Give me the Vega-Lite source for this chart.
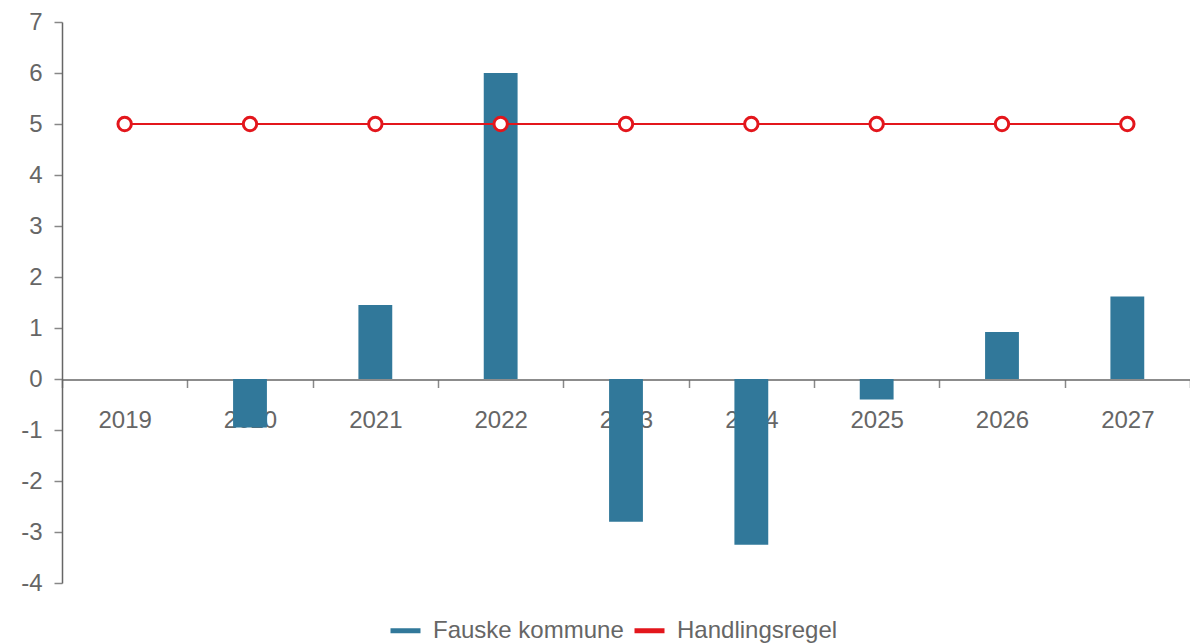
{
  "$schema": "https://vega.github.io/schema/vega-lite/v6.json",
  "width": 1128,
  "height": 561,
  "autosize": {"type": "none"},
  "padding": {"left": 62, "top": 22, "right": 0, "bottom": 61},
  "background": "white",
  "data": {
    "values": [
      {"year": "2019", "fauske": 0, "regel": 5},
      {"year": "2020", "fauske": -0.95, "regel": 5},
      {"year": "2021", "fauske": 1.45, "regel": 5},
      {"year": "2022", "fauske": 6.0, "regel": 5},
      {"year": "2023", "fauske": -2.8, "regel": 5},
      {"year": "2024", "fauske": -3.25, "regel": 5},
      {"year": "2025", "fauske": -0.4, "regel": 5},
      {"year": "2026", "fauske": 0.92, "regel": 5},
      {"year": "2027", "fauske": 1.62, "regel": 5}
    ]
  },
  "encoding": {
    "x": {
      "field": "year",
      "type": "ordinal",
      "scale": {"paddingInner": 0, "paddingOuter": 0},
      "axis": {
        "orient": "bottom",
        "offset": -203.5,
        "labelAngle": 0,
        "tickBand": "extent",
        "tickSize": 8,
        "labelPadding": 21,
        "zindex": 0
      }
    }
  },
  "layer": [
    {
      "mark": {"type": "bar", "width": {"band": 0.27}},
      "encoding": {
        "y": {
          "field": "fauske",
          "type": "quantitative",
          "scale": {"domain": [-4, 7], "nice": false},
          "axis": {
            "values": [-4, -3, -2, -1, 0, 1, 2, 3, 4, 5, 6, 7],
            "labelExpr": "datum.value + ''",
            "tickSize": 8,
            "labelPadding": 12,
            "zindex": 0
          }
        },
        "color": {"datum": "Fauske kommune"}
      }
    },
    {
      "mark": {
        "type": "line",
        "strokeWidth": 2,
        "point": {"filled": false, "fill": "white", "size": 180, "strokeWidth": 3}
      },
      "encoding": {
        "y": {"field": "regel", "type": "quantitative"},
        "color": {"datum": "Handlingsregel"}
      }
    }
  ],
  "resolve": {"scale": {"y": "shared"}},
  "config": {
    "font": "Liberation Sans",
    "view": {"stroke": null},
    "axis": {
      "title": null,
      "grid": false,
      "labelColor": "#666666",
      "labelFontSize": 24,
      "domainColor": "#666666",
      "domainWidth": 1.5,
      "tickColor": "#888888",
      "tickWidth": 1.5
    },
    "range": {"category": ["#31789a", "#e3161c"]},
    "legend": {
      "orient": "none",
      "legendX": 326,
      "legendY": 591,
      "direction": "horizontal",
      "title": null,
      "symbolType": "stroke",
      "symbolStrokeWidth": 5,
      "symbolSize": 900,
      "labelFontSize": 24,
      "labelLimit": 0,
      "labelColor": "#666666",
      "columnPadding": 0,
      "labelOffset": 10
    }
  }
}
